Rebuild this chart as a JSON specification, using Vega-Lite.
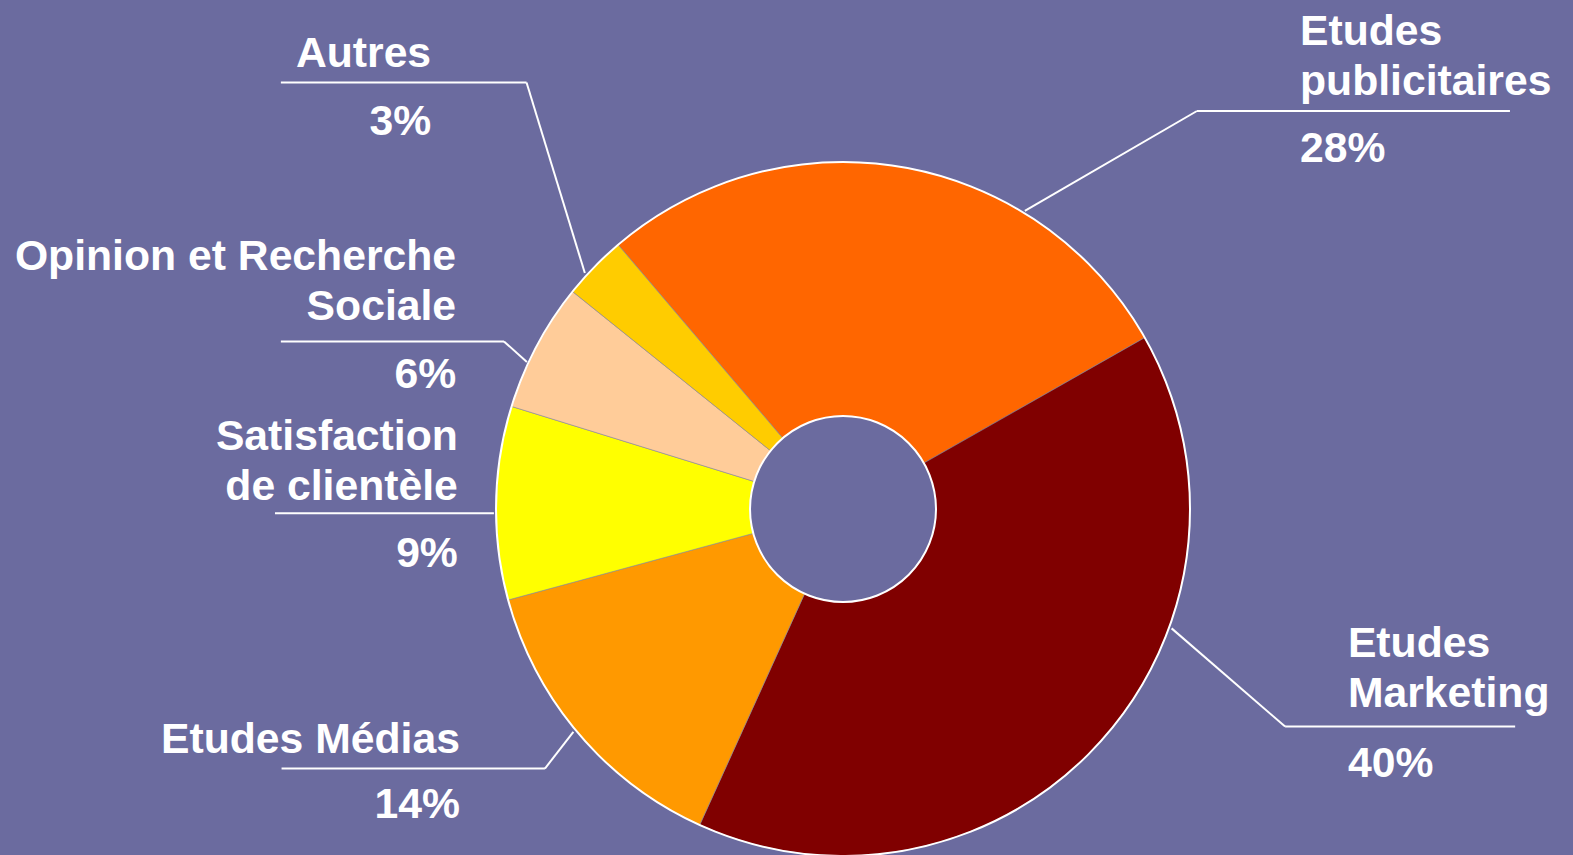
{
  "$schema": "https://vega.github.io/schema/vega-lite/v6.json",
  "width": 1573,
  "height": 855,
  "autosize": {"type": "none"},
  "padding": 0,
  "background": "#6B6B9F",
  "config": {"view": {"stroke": null}},
  "datasets": {
    "parts": [
      {"categorie": "Etudes publicitaires", "part": 0.28},
      {"categorie": "Etudes Marketing", "part": 0.40},
      {"categorie": "Etudes Médias", "part": 0.14},
      {"categorie": "Satisfaction de clientèle", "part": 0.09},
      {"categorie": "Opinion et Recherche Sociale", "part": 0.06},
      {"categorie": "Autres", "part": 0.03}
    ],
    "etiquettes": [
      {"categorie": "Autres", "texte": "Autres", "lx": -1.187, "ly": 1.274, "py": 1.078},
      {"categorie": "Etudes publicitaires", "texte": "Etudes\npublicitaires", "lx": 1.317, "ly": 1.337, "py": 1.0},
      {"categorie": "Opinion et Recherche Sociale", "texte": "Opinion et Recherche\nSociale", "lx": -1.115, "ly": 0.689, "py": 0.349},
      {"categorie": "Satisfaction de clientèle", "texte": "Satisfaction\nde clientèle", "lx": -1.11, "ly": 0.17, "py": -0.167},
      {"categorie": "Etudes Médias", "texte": "Etudes Médias", "lx": -1.104, "ly": -0.703, "py": -0.89},
      {"categorie": "Etudes Marketing", "texte": "Etudes\nMarketing", "lx": 1.455, "ly": -0.427, "py": -0.772}
    ],
    "reperes": [
      {"categorie": "Autres", "x1": -1.62, "y1": 1.229, "x2": -0.912, "y2": 1.229},
      {"categorie": "Autres", "x1": -0.912, "y1": 1.229, "x2": -0.744, "y2": 0.68},
      {"categorie": "Etudes publicitaires", "x1": 1.02, "y1": 1.147, "x2": 1.922, "y2": 1.147},
      {"categorie": "Etudes publicitaires", "x1": 1.02, "y1": 1.147, "x2": 0.524, "y2": 0.859},
      {"categorie": "Opinion et Recherche Sociale", "x1": -1.62, "y1": 0.483, "x2": -0.977, "y2": 0.483},
      {"categorie": "Opinion et Recherche Sociale", "x1": -0.977, "y1": 0.483, "x2": -0.911, "y2": 0.424},
      {"categorie": "Satisfaction de clientèle", "x1": -1.637, "y1": -0.012, "x2": -1.006, "y2": -0.012},
      {"categorie": "Etudes Médias", "x1": -1.618, "y1": -0.748, "x2": -0.859, "y2": -0.748},
      {"categorie": "Etudes Médias", "x1": -0.859, "y1": -0.748, "x2": -0.777, "y2": -0.642},
      {"categorie": "Etudes Marketing", "x1": 1.274, "y1": -0.627, "x2": 1.937, "y2": -0.627},
      {"categorie": "Etudes Marketing", "x1": 1.274, "y1": -0.627, "x2": 0.947, "y2": -0.344}
    ]
  },
  "layer": [
    {
      "data": {"name": "parts"},
      "transform": [{"window": [{"op": "row_number", "as": "rang"}]}],
      "mark": {"type": "arc", "outerRadius": 347, "innerRadius": 93, "stroke": "#8c8c9c", "strokeWidth": 0.6},
      "encoding": {
        "theta": {"field": "part", "type": "quantitative", "stack": true, "scale": {"range": [-0.705, 5.578]}},
        "order": {"field": "rang", "type": "quantitative"},
        "color": {
          "field": "categorie",
          "type": "nominal",
          "scale": {
            "domain": ["Etudes publicitaires", "Etudes Marketing", "Etudes Médias", "Satisfaction de clientèle", "Opinion et Recherche Sociale", "Autres"],
            "range": ["#FF6600", "#800000", "#FF9900", "#FFFF00", "#FFCC99", "#FFCC00"]
          },
          "legend": null
        },
        "x": {"datum": 0, "type": "quantitative", "scale": {"domain": [-2.4294, 2.1037], "nice": false, "zero": false}, "axis": null},
        "y": {"datum": 0, "type": "quantitative", "scale": {"domain": [-0.9971, 1.4669], "nice": false, "zero": false}, "axis": null}
      }
    },
    {
      "data": {"values": [{}]},
      "mark": {"type": "arc", "theta": 0, "theta2": 6.2832, "outerRadius": 347, "innerRadius": 93, "filled": false, "stroke": "white", "strokeWidth": 2},
      "encoding": {
        "x": {"datum": 0, "type": "quantitative"},
        "y": {"datum": 0, "type": "quantitative"}
      }
    },
    {
      "data": {"name": "reperes"},
      "mark": {"type": "rule", "color": "white", "strokeWidth": 2},
      "encoding": {
        "x": {"field": "x1", "type": "quantitative"},
        "y": {"field": "y1", "type": "quantitative"},
        "x2": {"field": "x2"},
        "y2": {"field": "y2"}
      }
    },
    {
      "data": {"name": "etiquettes"},
      "transform": [{"filter": {"not": {"field": "categorie", "oneOf": ["Etudes publicitaires", "Etudes Marketing"]}}}],
      "mark": {"type": "text", "align": "right", "baseline": "alphabetic", "font": "Liberation Sans", "fontWeight": "bold", "fontSize": 42.7, "lineHeight": 50, "lineBreak": "\n", "color": "white"},
      "encoding": {
        "x": {"field": "lx", "type": "quantitative"},
        "y": {"field": "ly", "type": "quantitative"},
        "text": {"field": "texte"}
      }
    },
    {
      "data": {"name": "etiquettes"},
      "transform": [{"filter": {"field": "categorie", "oneOf": ["Etudes publicitaires", "Etudes Marketing"]}}],
      "mark": {"type": "text", "align": "left", "baseline": "alphabetic", "font": "Liberation Sans", "fontWeight": "bold", "fontSize": 42.7, "lineHeight": 50, "lineBreak": "\n", "color": "white"},
      "encoding": {
        "x": {"field": "lx", "type": "quantitative"},
        "y": {"field": "ly", "type": "quantitative"},
        "text": {"field": "texte"}
      }
    },
    {
      "data": {"name": "etiquettes"},
      "transform": [
        {"lookup": "categorie", "from": {"data": {"name": "parts"}, "key": "categorie", "fields": ["part"]}},
        {"filter": {"not": {"field": "categorie", "oneOf": ["Etudes publicitaires", "Etudes Marketing"]}}}
      ],
      "mark": {"type": "text", "align": "right", "baseline": "alphabetic", "font": "Liberation Sans", "fontWeight": "bold", "fontSize": 42.7, "color": "white"},
      "encoding": {
        "x": {"field": "lx", "type": "quantitative"},
        "y": {"field": "py", "type": "quantitative"},
        "text": {"field": "part", "type": "quantitative", "format": ".0%"}
      }
    },
    {
      "data": {"name": "etiquettes"},
      "transform": [
        {"lookup": "categorie", "from": {"data": {"name": "parts"}, "key": "categorie", "fields": ["part"]}},
        {"filter": {"field": "categorie", "oneOf": ["Etudes publicitaires", "Etudes Marketing"]}}
      ],
      "mark": {"type": "text", "align": "left", "baseline": "alphabetic", "font": "Liberation Sans", "fontWeight": "bold", "fontSize": 42.7, "color": "white"},
      "encoding": {
        "x": {"field": "lx", "type": "quantitative"},
        "y": {"field": "py", "type": "quantitative"},
        "text": {"field": "part", "type": "quantitative", "format": ".0%"}
      }
    }
  ]
}
